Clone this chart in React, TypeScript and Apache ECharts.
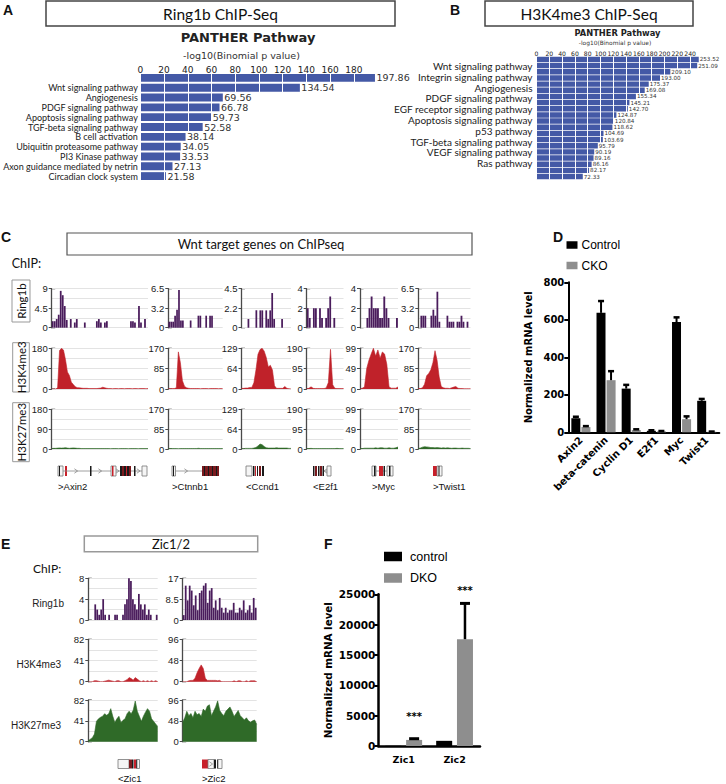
import React, { useEffect, useRef } from "react";
import * as echarts from "echarts";

const FONT_CAL = "Lato, 'Open Sans', sans-serif";
const FONT_HEL = "'Liberation Sans', Arial, sans-serif";
const FONT_DJ = "'DejaVu Sans', sans-serif";

// ---------------- Panel A ----------------
const aPathways = ["", "Wnt signaling pathway", "Angiogenesis", "PDGF signaling pathway", "Apoptosis signaling pathway", "TGF-beta signaling pathway", "B cell activation", "Ubiquitin proteasome pathway", "PI3 Kinase pathway", "Axon guidance mediated by netrin", "Circadian clock system"];
const aValues = [197.86, 134.54, 69.56, 66.78, 59.73, 52.58, 38.14, 34.05, 33.53, 27.13, 21.58];

// ---------------- Panel B ----------------
const bPathways = ["Wnt signaling pathway", "Integrin signaling pathway", "Angiogenesis", "PDGF signaling pathway", "EGF receptor signaling pathway", "Apoptosis signaling pathway", "p53 pathway", "TGF-beta signaling pathway", "VEGF signaling pathway", "Ras pathway"];
const bValues = [253.52, 251.09, 209.10, 193.00, 175.37, 169.08, 155.34, 145.21, 142.70, 124.87, 120.84, 118.62, 104.69, 103.69, 95.79, 90.19, 89.16, 86.16, 82.17, 72.33];

// ---------------- Panel C ----------------
const cGenes = [">Axin2", ">Ctnnb1", "<Ccnd1", "<E2f1", ">Myc", ">Twist1"];
const cMarks = ["Ring1b", "H3K4me3", "H3K27me3"];
const cRing1bMax = [9, 6.5, 4.5, 4, 4, 6.5];
const cRing1bMid = ["4.5", "3.2", "2.2", "2", "2", "3.2"];
const cHistMax = [180, 170, 129, 190, 99, 170];
const cHistMid = ["90", "85", "64", "95", "49", "85"];

const ring1bAxin2 = [1.5, 1.5, 2, 3, 8.5, 7.5, 5, 1.8, 0, 2, 0, 1.2, 2, 0, 0, 0, 1.2, 0, 0, 0, 0, 0, 1.5, 2, 1.2, 0, 1.2, 1.5, 0, 0, 0, 0, 0, 0, 0, 0, 0, 0, 0, 1.5, 1.5, 1.2, 0, 5, 1.2, 0, 2, 0];
const ring1bCtnnb1 = [1, 1, 1, 2, 3, 6.3, 1.2, 1.2, 0, 0, 0, 1.2, 0, 0, 0, 2, 2, 0, 0, 2, 0, 2, 2, 0, 0, 0, 0, 0];
const ring1bCcnd1 = [0, 0, 0, 1, 0, 0, 0, 2, 0, 2, 2, 0, 2, 1, 2, 4, 1, 0, 0, 0, 1, 0, 0, 0, 0];
const ring1bE2f1 = [2, 1, 0, 2, 2, 0, 2, 1, 0, 1, 2, 3.2, 0, 1, 0, 0, 0, 0];
const ring1bMyc = [0, 0, 0, 1, 2, 3.2, 2, 2, 2, 1, 1, 3.2, 2, 1, 0, 0, 0, 1];
const ring1bTwist1 = [0, 2, 2, 2, 0, 0, 2, 3, 2, 6, 1, 0, 0, 0, 2, 1, 1, 1, 0, 1, 1, 2, 1, 0, 1, 0];

const k4Axin2 = [0, 0, 0, 5, 170, 180, 172, 130, 75, 60, 30, 20, 10, 6, 5, 4, 3, 3, 3, 2, 2, 2, 2, 2, 3, 4, 8, 5, 3, 2, 2, 1, 2, 2, 1, 2, 2, 1, 2, 2, 2, 1, 2, 2, 1, 2, 2, 2, 1, 2];
const k4Ctnnb1 = [1, 1, 2, 2, 5, 155, 110, 35, 12, 5, 3, 2, 2, 2, 2, 2, 1, 2, 2, 2, 1, 2, 2, 2, 2, 1, 2, 1];
const k4Ccnd1 = [2, 2, 3, 3, 5, 5, 20, 60, 110, 125, 129, 120, 100, 70, 75, 60, 10, 2, 2, 2, 2, 8, 2, 1, 0];
const k4E2f1 = [2, 3, 10, 3, 2, 2, 2, 2, 2, 5, 30, 185, 20, 3, 2, 2, 2, 2];
const k4Myc = [0, 2, 5, 50, 70, 85, 99, 80, 95, 75, 90, 85, 60, 5, 2, 2, 2, 5];
const k4Twist1 = [2, 2, 5, 20, 55, 65, 80, 110, 160, 120, 50, 10, 5, 3, 3, 2, 5, 8, 10, 3, 2, 2, 1, 1, 1, 1];

const k27Axin2 = [2, 3, 3, 4, 5, 4, 5, 6, 4, 3, 4, 5, 4, 3, 3, 2, 2, 2, 2, 2, 2, 2, 2, 2, 2, 2, 2, 2, 2, 2, 1.5, 2, 2, 2, 1.5, 2, 2, 2, 2, 1.5, 2, 2, 2, 2, 1.5, 2, 2, 2, 2, 2];
const k27Ctnnb1 = [1.5, 2, 2, 2, 2, 1.5, 2, 2, 2, 2, 2, 2, 2, 2, 2, 3, 2, 2, 2, 2, 2, 2, 2, 2, 2, 2, 2, 2];
const k27Ccnd1 = [1, 1, 2, 2, 2, 2, 3, 5, 10, 16, 14, 8, 4, 3, 3, 3, 3, 4, 3, 3, 3, 3, 3, 2, 2];
const k27E2f1 = [2, 2, 3, 2, 2, 2, 2, 2, 2, 2, 2, 2, 2, 2, 3, 2, 2, 2];
const k27Myc = [1, 1, 2, 2, 2, 2, 2, 3, 2, 3, 3, 2, 2, 3, 2, 2, 3, 5];
const k27Twist1 = [2, 4, 8, 10, 9, 8, 6, 6, 5, 6, 5, 4, 5, 4, 5, 4, 3, 4, 4, 3, 3, 4, 3, 3, 3, 2];

// ---------------- Panel D ----------------
const dGenes = ["Axin2", "beta-catenin", "Cyclin D1", "E2f1", "Myc", "Twist1"];
const dControl = [75, 637, 233, 8, 588, 168];
const dControlErr = [8, 63, 20, 3, 25, 10];
const dCko = [28, 278, 12, 5, 70, 3];
const dCkoErr = [5, 48, 4, 2, 15, 1];
const dTicks = [0, 200, 400, 600, 800];

// ---------------- Panel E ----------------
const eGenes = ["<Zic1", ">Zic2"];
const eMarks = ["Ring1b", "H3K4me3", "H3K27me3"];
const eRing1bMax = [8, 17];
const eRing1bMid = ["4", "8.5"];
const eHistMax = [82, 96];
const eHistMid = ["41", "48"];
const eRing1bZic1 = [0, 0, 0, 3, 2, 1, 2, 4, 1, 0, 1, 0, 0, 1, 1, 0, 0, 1, 3, 4, 8, 7.5, 4, 3, 2, 5, 3, 2, 3, 1, 2, 1, 0, 0, 1];
const eRing1bZic2 = [2, 14, 8, 14, 12, 6, 10, 4, 11, 12, 14, 15, 7, 12, 13, 5, 8, 4, 9, 5, 3, 5, 3, 4, 4, 7, 3, 3, 5, 4, 8, 3, 4, 6, 3, 9, 5];
const eK4Zic1 = [0, 0, 0, 2, 2, 1, 0, 0, 1, 2, 3, 2, 1, 0, 2, 2, 0, 0, 2, 4, 8, 6, 3, 8, 5, 2, 0, 2, 0, 2, 0, 2, 0, 2, 0];
const eK4Zic2 = [0, 0, 0, 2, 3, 3, 8, 20, 30, 38, 30, 8, 3, 3, 3, 3, 3, 2, 3, 0, 0, 0, 0, 0, 0, 2, 0, 2, 2, 0, 0, 2, 0, 2, 2, 2, 0];
const eK27Zic1 = [2, 5, 8, 15, 40, 45, 48, 50, 55, 52, 55, 65, 50, 38, 45, 50, 38, 42, 45, 55, 60, 55, 62, 80, 60, 50, 40, 50, 58, 65, 60, 45, 40, 35, 30];
const eK27Zic2 = [45, 55, 70, 60, 65, 55, 70, 62, 65, 58, 75, 70, 82, 85, 60, 70, 80, 94, 72, 65, 60, 70, 75, 80, 70, 58, 65, 72, 60, 55, 50, 55, 48, 45, 48, 50, 40];

// ---------------- Panel F ----------------
const fGenes = ["Zic1", "Zic2"];
const fControl = [30, 850];
const fDko = [1000, 17600];
const fDkoErr = [200, 5900];
const fStarText = ["***", "***"];
const fStarLevel = [4800, 25700];

// ---------------- layout ----------------
const C_COLS = [[51.7, 148], [168.3, 222.7], [241.5, 291], [306.7, 343.5], [360, 398], [418.3, 470.5]];
const C_ROWS = [[288.7, 327.7], [348.3, 389], [409.3, 449]];
const E_COLS = [[88.3, 157.7], [182.7, 256.7]];
const E_ROWS = [[578.3, 620], [639.3, 681.7], [700, 741.7]];
const PURPLE = "#4a1c5c";
const RED = "#c0222a";
const GREEN = "#2f6a28";
const BLUE = "#4459a6";

// gene model drawings (schematic)
const C_GENE_MODELS: any[] = [
  [["bx", 58, 63], ["k", 59, 60], ["r", 65, 67], ["ln", 63, 142], ["ar", 76], ["k", 90, 91.5], ["ar", 100], ["bx", 111, 116], ["r", 112, 113.5], ["ar", 117.5], ["k", 120, 122], ["dr", 122, 124], ["k", 124, 126], ["r", 126, 127], ["k", 127, 129], ["dr", 129, 131], ["k", 134, 135.5], ["ar", 138.5], ["bx", 142, 147]],
  [["bx", 172, 175.5], ["k", 173, 174], ["ln", 175.5, 202], ["ar", 186], ["dr", 202, 219], ["k", 204, 205], ["k", 208, 209], ["k", 212, 213], ["k", 216, 217]],
  [["bx", 246, 252], ["k", 253, 254.5], ["r", 255, 256], ["k", 257, 258], ["dr", 259, 261], ["k", 262, 264]],
  [["k", 313, 314.5], ["dr", 315, 317], ["k", 318, 319.5], ["dr", 320, 322], ["k", 322.5, 324], ["ln", 324, 327], ["al", 325.5], ["bx", 327, 331]],
  [["bx", 372, 376], ["k", 374, 375.5], ["ln", 376, 387], ["r", 379, 383], ["k", 383.5, 385], ["bx", 387, 393], ["k", 389, 390.5]],
  [["r", 433, 437], ["bx", 437, 442], ["k", 438.5, 439.5]],
];
const E_GENE_MODELS: any[] = [
  [["bx", 118, 129], ["dr", 129, 132], ["k", 132, 133.5], ["r", 134, 136], ["k", 136, 137], ["bx", 137, 139.5]],
  [["r", 202, 208], ["bx", 208, 214], ["ar", 211], ["k", 214, 216], ["k", 217, 218], ["bx", 218, 222]],
];

function buildOption() {
  const grid: any[] = [];
  const xAxis: any[] = [];
  const yAxis: any[] = [];
  const series: any[] = [];
  const g: any[] = [];

  const text = (x: number, y: number, t: string, o: any = {}) =>
    g.push({ type: "text", x, y, silent: true, rotation: o.rotation || 0, style: { text: t, fill: o.fill || "#111", fontSize: o.size || 12, fontFamily: o.family || FONT_HEL, fontWeight: o.weight || "normal", align: o.align || "center", verticalAlign: o.va || "middle" } });
  const rect = (x: number, y: number, w: number, h: number, stroke: string, lw: number, fill = "#fff") =>
    g.push({ type: "rect", silent: true, shape: { x, y, width: w, height: h }, style: { fill, stroke, lineWidth: lw } });
  const line = (x1: number, y1: number, x2: number, y2: number, stroke = "#4a4a4a", lw = 1.2) =>
    g.push({ type: "line", silent: true, shape: { x1, y1, x2, y2 }, style: { stroke, lineWidth: lw } });

  const geneModel = (parts: any[], yc: number, h: number) => {
    const y0 = yc - h / 2;
    parts.forEach((p) => {
      const [k, a, b] = p;
      if (k === "ln") line(a, yc, b, yc, "#888", 0.8);
      else if (k === "ar" || k === "al") {
        const d = k === "ar" ? 1 : -1;
        g.push({ type: "polyline", silent: true, shape: { points: [[a - 1.6 * d, yc - 2.2], [a + 1.6 * d, yc], [a - 1.6 * d, yc + 2.2]] }, style: { stroke: "#888", lineWidth: 0.8, fill: "none" } });
      } else if (k === "bx") rect(a, y0, b - a, h, "#777", 0.8, "#f5f5f5");
      else {
        const fill = k === "k" ? "#1a1a1a" : k === "r" ? "#c8202a" : "#7a1a1e";
        g.push({ type: "rect", silent: true, shape: { x: a, y: y0, width: b - a, height: h }, style: { fill } });
      }
    });
  };

  const addTrack = (left: number, right: number, top: number, bottom: number, max: number, mid: string, data: number[], kind: string, color: string) => {
    grid.push({ left, top, width: right - left, height: bottom - top });
    const gi = grid.length - 1;
    xAxis.push({ type: "category", gridIndex: gi, data: data.map((_, i) => i), show: false, boundaryGap: kind === "bar" });
    yAxis.push({
      type: "value", gridIndex: gi, min: 0, max, interval: max / 2,
      axisLine: { show: true, lineStyle: { color: "#4a4a4a", width: 1.3 } },
      axisTick: { show: true, length: 3, lineStyle: { color: "#4a4a4a", width: 1 } },
      axisLabel: { fontSize: 9.5, fontFamily: FONT_HEL, color: "#1a1a1a", margin: 4, formatter: (v: number) => (v === 0 ? "0" : v === max ? String(max) : mid) },
      splitLine: { show: true, lineStyle: { color: "#e3e3e3", width: 1 } },
      minorTick: { show: false, splitNumber: 2 },
      minorSplitLine: { show: true, lineStyle: { color: "#e3e3e3", width: 1 } },
    });
    const xi = xAxis.length - 1, yi = yAxis.length - 1;
    if (kind === "bar") series.push({ type: "bar", xAxisIndex: xi, yAxisIndex: yi, data, barCategoryGap: "12%", itemStyle: { color }, silent: true });
    else series.push({ type: "line", xAxisIndex: xi, yAxisIndex: yi, data, symbol: "none", lineStyle: { width: 0.6, color }, areaStyle: { color, opacity: 1 }, silent: true });
    line(left, top, left + 3.5, top);
    line(left, bottom, left + 3.5, bottom);
  };

  // horizontal pathway bars: filled bars + transparent overlay carrying value labels above the white grid lines
  const pathwayBars = (xi: number, yi: number, data: number[], gap: string, labelSize: number, dist: number) => {
    series.push({ type: "bar", xAxisIndex: xi, yAxisIndex: yi, data, barCategoryGap: gap, barGap: "-100%", itemStyle: { color: BLUE }, silent: true, z: 2 });
    series.push({ type: "bar", xAxisIndex: xi, yAxisIndex: yi, data, barCategoryGap: gap, barGap: "-100%", itemStyle: { color: "rgba(0,0,0,0)" }, silent: true, z: 6,
      label: { show: true, position: "right", distance: dist, fontSize: labelSize, fontFamily: FONT_DJ, color: "#333", formatter: (p: any) => p.value.toFixed(2) } });
  };

  // ---------- Panel A ----------
  text(3, 9.5, "A", { size: 14, weight: "bold", align: "left" });
  rect(46, 1, 349, 25, "#444", 1.5);
  text(220.5, 13.5, "Ring1b ChIP-Seq", { size: 15.5, family: FONT_CAL });
  text(248, 37.5, "PANTHER Pathway", { size: 13, weight: "bold", family: FONT_DJ, fill: "#222" });
  text(241.5, 55, "-log10(Binomial p value)", { size: 9.5, family: FONT_DJ, fill: "#333" });
  grid.push({ left: 121.5, top: 73, width: 256, height: 108 });
  let gi = grid.length - 1;
  xAxis.push({ type: "value", gridIndex: gi, position: "top", min: 0, max: 200, interval: 20, z: 3,
    axisLine: { show: false }, axisTick: { show: false },
    axisLabel: { showMaxLabel: false, fontSize: 9, fontFamily: FONT_DJ, color: "#222", margin: -1 },
    splitLine: { show: true, lineStyle: { color: "#ffffff", width: 1 } } });
  yAxis.push({ type: "category", gridIndex: gi, data: aPathways, inverse: true, axisLine: { show: false }, axisTick: { show: false },
    axisLabel: { interval: 0, fontSize: 9, fontFamily: FONT_CAL, color: "#222", margin: 2.5 } });
  pathwayBars(xAxis.length - 1, yAxis.length - 1, aValues, "20%", 9.5, 1.5);

  // ---------- Panel B ----------
  text(450, 9.5, "B", { size: 14, weight: "bold", align: "left" });
  rect(485, 1, 208, 25, "#444", 1.5);
  text(589, 14, "H3K4me3 ChIP-Seq", { size: 15.5, family: FONT_CAL });
  text(617.5, 33, "PANTHER Pathway", { size: 8.3, weight: "bold", family: FONT_DJ, fill: "#222" });
  text(615, 43.3, "-log10(Binomial p value)", { size: 5.9, family: FONT_DJ, fill: "#333" });
  grid.push({ left: 536.5, top: 56.4, width: 166.4, height: 123.2 });
  gi = grid.length - 1;
  xAxis.push({ type: "value", gridIndex: gi, position: "top", min: 0, max: 260, interval: 20, z: 3,
    axisLine: { show: false }, axisTick: { show: false },
    axisLabel: { showMaxLabel: false, fontSize: 6.1, fontFamily: FONT_DJ, color: "#222", margin: 0 },
    splitLine: { show: true, lineStyle: { color: "#ffffff", width: 1 } } });
  yAxis.push({ type: "category", gridIndex: gi, data: bValues.map((_, i) => i), inverse: true, show: false });
  pathwayBars(xAxis.length - 1, yAxis.length - 1, bValues, "12%", 5.6, 1);
  // pathway names (label column)
  grid.push({ left: 536.5, top: 60.6, width: 10, height: 108.1 });
  gi = grid.length - 1;
  xAxis.push({ type: "value", gridIndex: gi, show: false, min: 0, max: 1 });
  yAxis.push({ type: "category", gridIndex: gi, data: bPathways, inverse: true, axisLine: { show: false }, axisTick: { show: false },
    axisLabel: { interval: 0, fontSize: 10, fontFamily: FONT_CAL, color: "#222", margin: 4 } });
  series.push({ type: "bar", xAxisIndex: xAxis.length - 1, yAxisIndex: yAxis.length - 1, data: [], silent: true });

  // ---------- Panel C ----------
  text(1, 237, "C", { size: 14, weight: "bold", align: "left" });
  rect(67, 233, 405, 22, "#555", 1.2);
  text(261, 244, "Wnt target genes on ChIPseq", { size: 13, family: FONT_CAL });
  text(11.7, 263, "ChIP:", { size: 12.5, family: FONT_CAL, align: "left" });
  const cBoxes = [[12, 280, 18, 42], [12.7, 342.7, 16.6, 49.3], [12.7, 402.7, 16.6, 59]];
  cBoxes.forEach((b, i) => {
    rect(b[0], b[1], b[2], b[3], "#999", 1);
    text(b[0] + b[2] / 2, b[1] + b[3] / 2, cMarks[i], { size: 11.5, family: FONT_CAL, rotation: Math.PI / 2 });
  });
  const cRing = [ring1bAxin2, ring1bCtnnb1, ring1bCcnd1, ring1bE2f1, ring1bMyc, ring1bTwist1];
  const cK4 = [k4Axin2, k4Ctnnb1, k4Ccnd1, k4E2f1, k4Myc, k4Twist1];
  const cK27 = [k27Axin2, k27Ctnnb1, k27Ccnd1, k27E2f1, k27Myc, k27Twist1];
  C_COLS.forEach((c, i) => {
    addTrack(c[0], c[1], C_ROWS[0][0], C_ROWS[0][1], cRing1bMax[i], cRing1bMid[i], cRing[i], "bar", PURPLE);
    addTrack(c[0], c[1], C_ROWS[1][0], C_ROWS[1][1], cHistMax[i], cHistMid[i], cK4[i], "area", RED);
    addTrack(c[0], c[1], C_ROWS[2][0], C_ROWS[2][1], cHistMax[i], cHistMid[i], cK27[i], "area", GREEN);
    geneModel(C_GENE_MODELS[i], 471, 10);
    text(C_GENE_MODELS[i][0][1], 486, cGenes[i], { size: 9.5, family: FONT_HEL, align: "left" });
  });

  // ---------- Panel D ----------
  text(553, 237, "D", { size: 14, weight: "bold", align: "left" });
  grid.push({ left: 568.3, top: 282.3, width: 151, height: 150 });
  gi = grid.length - 1;
  xAxis.push({ type: "category", gridIndex: gi, data: dGenes,
    axisLine: { lineStyle: { color: "#000", width: 2 } },
    axisTick: { alignWithLabel: true, length: 4, lineStyle: { color: "#000", width: 1.5 } },
    axisLabel: { rotate: 45, interval: 0, fontSize: 10, fontWeight: "bold", fontFamily: FONT_DJ, color: "#000", margin: 6 } });
  yAxis.push({ type: "value", gridIndex: gi, min: dTicks[0], max: dTicks[dTicks.length - 1], interval: dTicks[1] - dTicks[0],
    name: "Normalized mRNA level", nameLocation: "middle", nameGap: 35, nameTextStyle: { fontSize: 10, fontWeight: "bold", fontFamily: FONT_DJ, color: "#000" },
    axisLine: { show: true, lineStyle: { color: "#000", width: 2 } },
    axisTick: { show: true, length: 4, lineStyle: { color: "#000", width: 2 } },
    axisLabel: { fontSize: 10, fontWeight: "bold", fontFamily: FONT_DJ, color: "#000", margin: 4 },
    splitLine: { show: false } });
  let xi = xAxis.length - 1, yi = yAxis.length - 1;
  series.push({ type: "bar", name: "Control", xAxisIndex: xi, yAxisIndex: yi, data: dControl, barWidth: 9, barGap: "12%", itemStyle: { color: "#000" }, silent: true });
  series.push({ type: "bar", name: "CKO", xAxisIndex: xi, yAxisIndex: yi, data: dCko, barWidth: 9, barGap: "12%", itemStyle: { color: "#8e8e8e" }, silent: true });
  const errSeries = (xi: number, yi: number, vals: number[], errs: number[], offset: number, cap: number, lw: number) => ({
    type: "custom", xAxisIndex: xi, yAxisIndex: yi, z: 5, silent: true,
    data: vals.map((v, i) => [i, v, errs[i]]),
    encode: { x: 0, y: 1 },
    renderItem: (params: any, api: any) => {
      const i = api.value(0), v = api.value(1), e = api.value(2);
      const p0 = api.coord([i, v]);
      const p1 = api.coord([i, v + e]);
      const x = p0[0] + offset;
      return { type: "group", children: [
        { type: "line", shape: { x1: x, y1: p0[1], x2: x, y2: p1[1] }, style: { stroke: "#000", lineWidth: lw } },
        { type: "line", shape: { x1: x - cap, y1: p1[1], x2: x + cap, y2: p1[1] }, style: { stroke: "#000", lineWidth: lw + 0.5 } },
      ] };
    },
  });
  series.push(errSeries(xi, yi, dControl, dControlErr, -5, 3, 2));
  series.push(errSeries(xi, yi, dCko, dCkoErr, 5, 3, 2));

  // ---------- Panel E ----------
  text(1, 544, "E", { size: 14, weight: "bold", align: "left" });
  rect(84.3, 536, 173.4, 15.7, "#999", 1.5);
  text(171, 544, "Zic1/2", { size: 13, family: FONT_CAL });
  text(33, 568.3, "ChIP:", { size: 12, family: FONT_CAL, align: "left" });
  const eLabelPos = [[64, 603.3], [61, 664.3], [61, 725]];
  eLabelPos.forEach((p, i) => text(p[0], p[1], eMarks[i], { size: 10, family: FONT_HEL, align: "right", fill: "#222" }));
  const eRing = [eRing1bZic1, eRing1bZic2];
  const eK4 = [eK4Zic1, eK4Zic2];
  const eK27 = [eK27Zic1, eK27Zic2];
  E_COLS.forEach((c, i) => {
    addTrack(c[0], c[1], E_ROWS[0][0], E_ROWS[0][1], eRing1bMax[i], eRing1bMid[i], eRing[i], "bar", PURPLE);
    addTrack(c[0], c[1], E_ROWS[1][0], E_ROWS[1][1], eHistMax[i], eHistMid[i], eK4[i], "area", RED);
    addTrack(c[0], c[1], E_ROWS[2][0], E_ROWS[2][1], eHistMax[i], eHistMid[i], eK27[i], "area", GREEN);
    geneModel(E_GENE_MODELS[i], 764, 9);
    text(E_GENE_MODELS[i][0][1], 778.5, eGenes[i], { size: 9.5, family: FONT_HEL, align: "left" });
  });

  // ---------- Panel F ----------
  text(324, 544, "F", { size: 14, weight: "bold", align: "left" });
  grid.push({ left: 378.3, top: 594.3, width: 101.7, height: 151.7 });
  gi = grid.length - 1;
  xAxis.push({ type: "category", gridIndex: gi, data: fGenes,
    axisLine: { lineStyle: { color: "#000", width: 2.5 } },
    axisTick: { alignWithLabel: true, length: 4, lineStyle: { color: "#000", width: 2 } },
    axisLabel: { fontSize: 9.5, fontWeight: "bold", fontFamily: FONT_DJ, color: "#000", margin: 8 } });
  yAxis.push({ type: "value", gridIndex: gi, min: 0, max: 25000, interval: 5000,
    name: "Normalized mRNA level", nameLocation: "middle", nameGap: 45, nameTextStyle: { fontSize: 10.3, fontWeight: "bold", fontFamily: FONT_DJ, color: "#000" },
    axisLine: { show: true, lineStyle: { color: "#000", width: 2.5 } },
    axisTick: { show: true, length: 4, lineStyle: { color: "#000", width: 2 } },
    axisLabel: { fontSize: 10.5, fontWeight: "bold", fontFamily: FONT_DJ, color: "#000", margin: 3, formatter: (v: number) => String(v) },
    splitLine: { show: false } });
  xi = xAxis.length - 1; yi = yAxis.length - 1;
  series.push({ type: "bar", name: "control", xAxisIndex: xi, yAxisIndex: yi, data: fControl, barWidth: 16, barGap: "30%", itemStyle: { color: "#000" }, silent: true });
  series.push({ type: "bar", name: "DKO", xAxisIndex: xi, yAxisIndex: yi, data: fDko, barWidth: 16, barGap: "30%", itemStyle: { color: "#8e8e8e" }, silent: true });
  series.push(errSeries(xi, yi, fDko, fDkoErr, 10.4, 5, 2.5));
  series.push({
    type: "custom", xAxisIndex: xi, yAxisIndex: yi, z: 6, silent: true, clip: false,
    data: fStarLevel.map((v, i) => [i, v]), encode: { x: 0, y: 1 },
    renderItem: (params: any, api: any) => {
      const p = api.coord([api.value(0), api.value(1)]);
      return { type: "text", x: p[0] + 10.4, y: p[1], style: { text: fStarText[params.dataIndex], fontSize: 10, fontWeight: "bold", fontFamily: FONT_DJ, fill: "#000", align: "center", verticalAlign: "middle" } };
    },
  });

  const legendCommon = { orient: "vertical", icon: "rect", selectedMode: false, itemGap: 8.5, padding: 0 };
  const legend = [
    { ...legendCommon, data: ["Control", "CKO"], left: 566.5, top: 239, itemWidth: 11, itemHeight: 7.5, textStyle: { fontSize: 12, fontFamily: FONT_HEL, color: "#000", padding: [0, 0, 0, -1] } },
    { ...legendCommon, data: ["control", "DKO"], left: 384, top: 550, itemWidth: 18, itemHeight: 9.5, textStyle: { fontSize: 12.5, fontFamily: FONT_HEL, color: "#000", padding: [0, 0, 0, 3] } },
  ];

  return { animation: false, backgroundColor: "#fff", grid, xAxis, yAxis, series, legend, graphic: { elements: g } };
}

export default function App() {
  const ref = useRef<HTMLDivElement>(null);
  useEffect(() => {
    if (!ref.current) return;
    const chart = echarts.init(ref.current, null, { renderer: "svg" });
    chart.setOption(buildOption() as any);
    return () => chart.dispose();
  }, []);
  return <div ref={ref} style={{ position: "absolute", left: 0, top: 0, width: 726, height: 784, background: "#fff" }} />;
}
